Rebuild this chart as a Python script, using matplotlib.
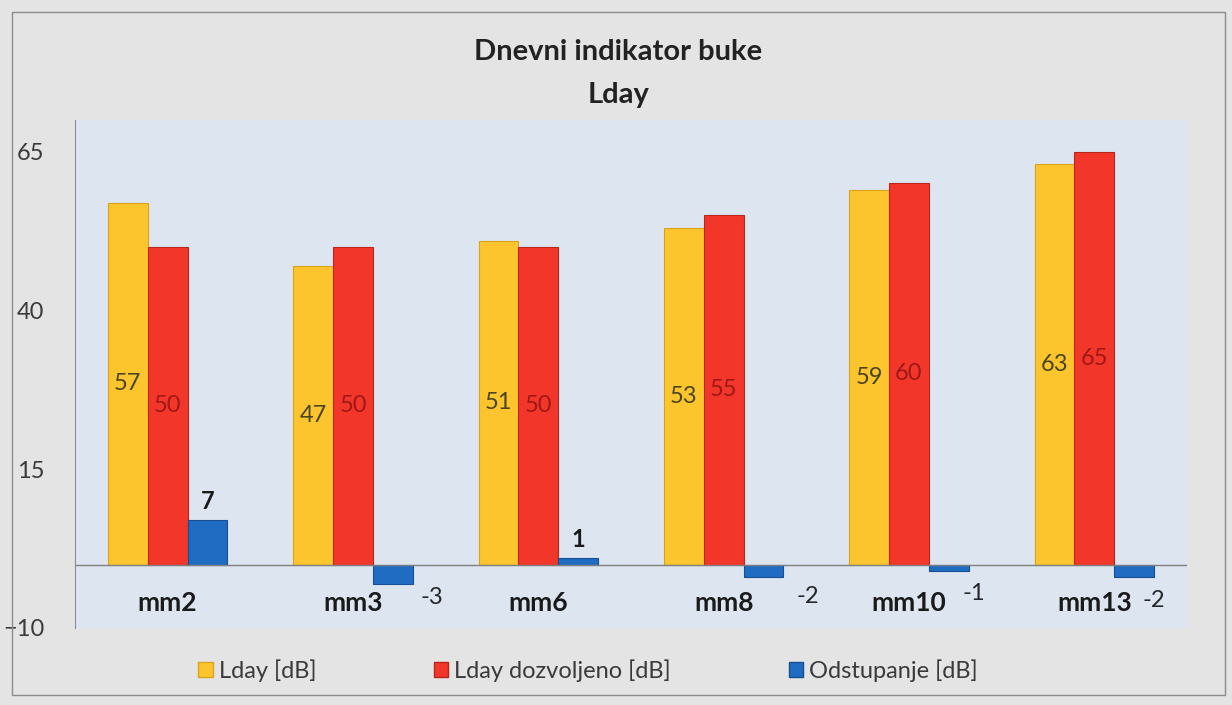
import numpy as np
import matplotlib
matplotlib.use("Agg")
import matplotlib.pyplot as plt
from matplotlib.patches import Rectangle, Patch

plt.rcParams['font.family'] = ['Lato', 'DejaVu Sans']

# data
locations = ['mm2', 'mm3', 'mm6', 'mm8', 'mm10', 'mm13']
lday = [57, 47, 51, 53, 59, 63]
lday_allowed = [50, 50, 50, 55, 60, 65]
deviation = [7, -3, 1, -2, -1, -2]
y_ticks = [-10, 15, 40, 65]

series_names = ['Lday [dB]', 'Lday dozvoljeno [dB]', 'Odstupanje [dB]']

# nudges (points) for the negative value labels, as placed in the original
neg_label_dx = [28, 32, 18, 14]
neg_label_dy = [0, 1, 3, -2]

c_yellow = '#fcc52e'
c_red = '#f2362a'
c_blue = '#1f6cc2'

fig = plt.figure(figsize=(12.32, 7.05), dpi=100)
fig.patch.set_facecolor('#e4e4e4')

# thin frame round the whole chart
fig.patches.append(Rectangle((12 / 1232, 10 / 705), 1213 / 1232, 683 / 705,
                             transform=fig.transFigure, fill=False,
                             edgecolor='#8c8c8c', lw=1.0))

ax = fig.add_axes([75 / 1232, 77 / 705, 1112 / 1232, 508 / 705])
ax.set_facecolor('#dde6f0')

x = np.arange(len(locations))
w = 0.215
ax.bar(x - w, lday, w, color=c_yellow, edgecolor='#d9a21a', lw=0.8)
ax.bar(x, lday_allowed, w, color=c_red, edgecolor='#b8261c', lw=0.8)
ax.bar(x + w, deviation, w, color=c_blue, edgecolor='#164f94', lw=0.8)

ax.set_xlim(-0.5, len(locations) - 0.5)
ax.set_ylim(-10, 70)
ax.set_yticks(y_ticks)
ax.tick_params(axis='y', length=0, pad=22, labelsize=17, labelcolor='#3a3a3a')
ax.set_xticks([])
for s in ['top', 'right', 'bottom']:
    ax.spines[s].set_visible(False)
ax.spines['left'].set_color('#8a8a8a')
ax.axhline(0, color='#7f7f7f', lw=1.0, zorder=1)

# labels inside the yellow and red bars
for i in range(len(locations)):
    ax.text(x[i] - w, lday[i] / 2, str(lday[i]), ha='center', va='center',
            fontsize=17, color='#4a4520')
    ax.text(x[i], lday_allowed[i] / 2, str(lday_allowed[i]), ha='center',
            va='center', fontsize=17, color='#a01818')

# deviation labels
k = 0
for i, v in enumerate(deviation):
    if v > 0:
        ax.annotate(str(v), (x[i] + w, v), xytext=(0, 5),
                    textcoords='offset points', ha='center', va='bottom',
                    fontsize=17, fontweight='bold', color='#1a1a1a')
    else:
        ax.annotate(str(v), (x[i] + w, -5.2),
                    xytext=(neg_label_dx[k], neg_label_dy[k]),
                    textcoords='offset points', ha='center', va='center',
                    fontsize=17, color='#262626')
        k += 1

# category names sit inside the plot, under the zero line
for i, name in enumerate(locations):
    ax.text(x[i], -6, name, ha='center', va='center', fontsize=19,
            fontweight='bold', color='#1a1a1a')

fig.text(0.502, 1 - 52 / 705, 'Dnevni indikator buke', ha='center',
         va='center', fontsize=21, fontweight='bold', color='#222222')
fig.text(0.502, 1 - 95 / 705, 'Lday', ha='center', va='center',
         fontsize=21, fontweight='bold', color='#222222')

handles = [Patch(facecolor=c_yellow, edgecolor='#d9a21a'),
           Patch(facecolor=c_red, edgecolor='#b8261c'),
           Patch(facecolor=c_blue, edgecolor='#164f94')]
leg = fig.legend(handles, series_names, loc='center',
                 bbox_to_anchor=(588 / 1232, 1 - 671 / 705), ncol=3,
                 frameon=False, fontsize=17, handlelength=0.6,
                 handleheight=0.6, handletextpad=0.25, columnspacing=5.0)
for t in leg.get_texts():
    t.set_color('#3a3a3a')

fig.savefig('out.png', dpi=100, facecolor=fig.get_facecolor())
